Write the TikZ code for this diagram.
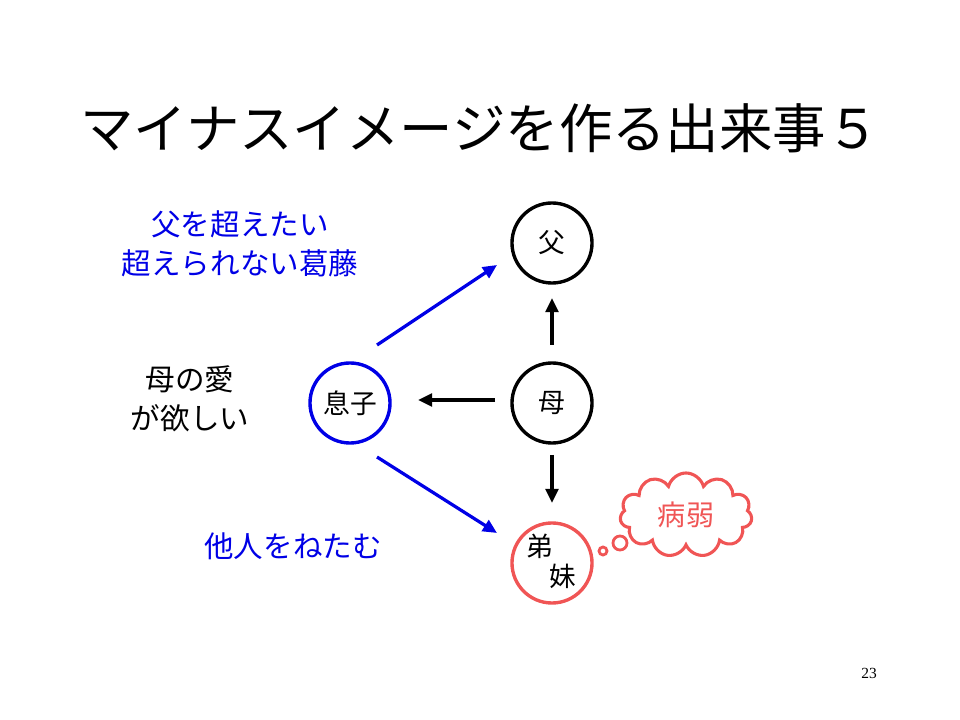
\documentclass[tikz,border=0pt]{standalone}
\usepackage{fontspec}
\setmainfont{Noto Sans CJK JP}
\newfontfamily\pgfont{Liberation Serif}
\usetikzlibrary{shapes.symbols,arrows.meta}
\definecolor{myred}{RGB}{240,85,85}
\definecolor{myblue}{RGB}{0,0,230}
\tikzset{
 circ/.style={circle,draw,line width=2.4pt,minimum size=2cm,inner sep=0pt,font=\fontsize{19}{21}\selectfont},
 arr/.style={-{Triangle[length=10pt,width=9pt]},line width=2.3pt},
 lbl/.style={font=\fontsize{21}{28}\selectfont,align=center}
}
\begin{document}
\begin{tikzpicture}[x=0.025cm,y=-0.025cm]
\useasboundingbox (0,0) rectangle (960,720);
\node[font=\fontsize{38}{42}\selectfont] (title) at (480,128) {マイナスイメージを作る出来事５};
\node[circ] (f) at (552,243) {父};
\node[circ] (m) at (552,403) {母};
\node[circ,draw=myblue] (s) at (350,403) {息子};
\node[circ,draw=myred] (k) at (552,563) {};
\node[font=\fontsize{19}{21}\selectfont] (k1) at (540,546) {弟};
\node[font=\fontsize{19}{21}\selectfont] (k2) at (563,576) {妹};
\coordinate (a1) at (552,345); \coordinate (a2) at (552,298);
\draw[arr] (a1) -- (a2);
\coordinate (b1) at (495,400); \coordinate (b2) at (418,400);
\draw[arr] (b1) -- (b2);
\coordinate (c1) at (552,455); \coordinate (c2) at (552,503);
\draw[arr] (c1) -- (c2);
\coordinate (d1) at (377,345); \coordinate (d2) at (497,265);
\draw[arr,myblue] (d1) -- (d2);
\coordinate (e1) at (377,457); \coordinate (e2) at (497,533);
\draw[arr,myblue] (e1) -- (e2);
\node[lbl,text=myblue] (t1) at (240,244) {父を超えたい\\超えられない葛藤};
\node[lbl] (t2) at (190,399) {母の愛\\が欲しい};
\node[lbl,text=myblue] (t3) at (293,546) {他人をねたむ};
\node[cloud,draw=myred,line width=2.2pt,fill=white,cloud puffs=11,aspect=1.6,minimum width=3.3cm,minimum height=2.1cm,text=myred,font=\fontsize{20}{22}\selectfont] (cl) at (686,515) {病弱};
\node[circle,draw=myred,line width=2pt,minimum size=0.2cm,inner sep=0pt] (p1) at (603,551) {};
\node[circle,draw=myred,line width=2pt,minimum size=0.35cm,inner sep=0pt] (p2) at (620,543) {};
\node[font=\fontsize{11}{12}\pgfont] (pg) at (869,673) {23};
\end{tikzpicture}
\end{document}
